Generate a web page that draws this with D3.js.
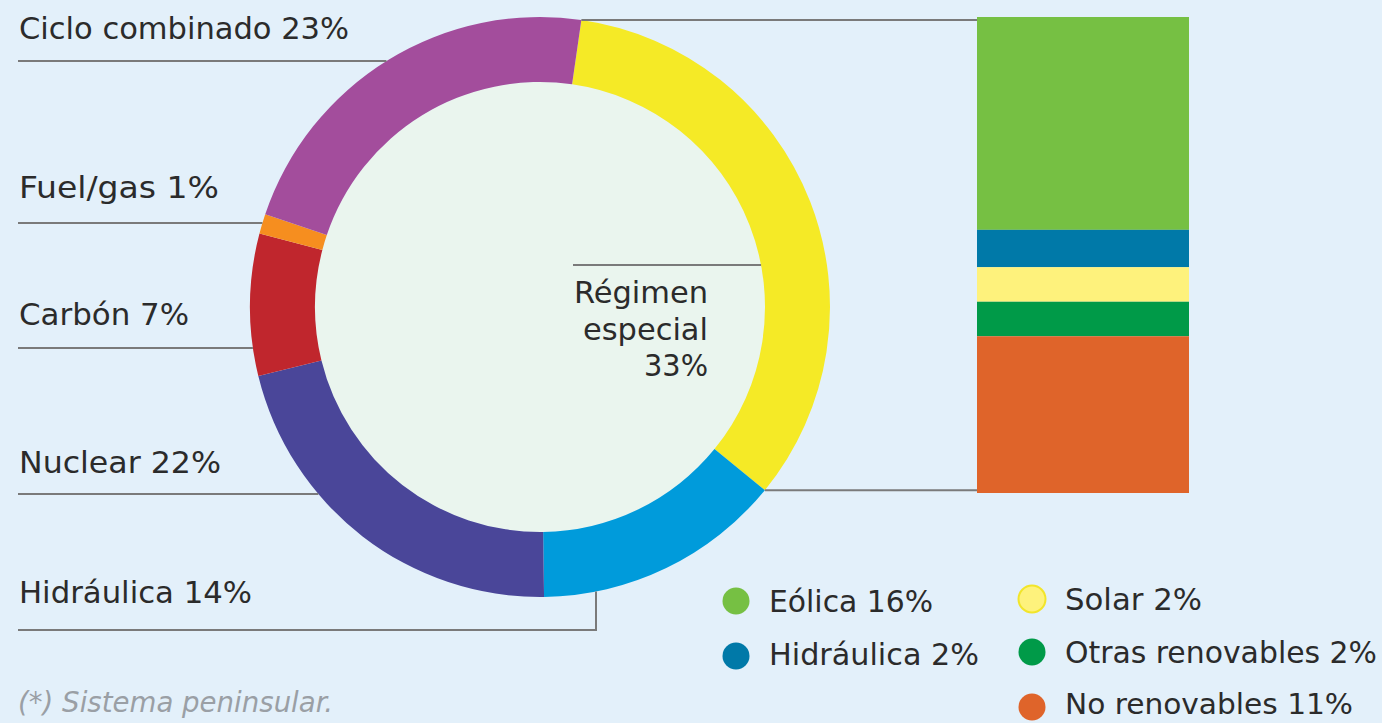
<!DOCTYPE html>
<html><head><meta charset="utf-8">
<script src="https://cdn.jsdelivr.net/npm/d3@7"></script>
<style>
html,body{margin:0;padding:0;background:#e3f0fa;}
svg{display:block;}
text{font-family:"Liberation Sans Narrow","DejaVu Sans Condensed",sans-serif;fill:#2b2b2b;}
</style></head>
<body>
<script>
// ---- data ----
const donutLabels = ["Régimen especial", "Hidráulica", "Nuclear", "Carbón", "Fuel/gas", "Ciclo combinado"];
const donutValues = [33.6, 13.9, 21.4, 7.9, 1.1, 22.1];
const donutColors = ["#f5ea26", "#009bdb", "#4a4699", "#c0262d", "#f68e1f", "#a34d9c"];
const donutText = ["Régimen especial 33%", "Hidráulica 14%", "Nuclear 22%", "Carbón 7%", "Fuel/gas 1%", "Ciclo combinado 23%"];

const barLabels = ["Eólica", "Hidráulica", "Solar", "Otras renovables", "No renovables"];
const barValues = [14.8, 2.6, 2.4, 2.4, 10.9];
const barColors = ["#76c043", "#0079a8", "#fef27c", "#009a48", "#df642a"];
const legendText = ["Eólica 16%", "Hidráulica 2%", "Solar 2%", "Otras renovables 2%", "No renovables 11%"];
const footnote = "(*) Sistema peninsular.";

// ---- layout ----
const W = 1382, H = 723;
const cx = 540, cy = 307, R = 290, r = 225;
const svg = d3.select("body").append("svg").attr("width", W).attr("height", H);
svg.append("rect").attr("width", W).attr("height", H).attr("fill", "#e3f0fa");

const start = 8.2 * Math.PI / 180;
const pie = d3.pie().sort(null).startAngle(start).endAngle(start + 2 * Math.PI);
const arcs = pie(donutValues);
const arc = d3.arc().innerRadius(r).outerRadius(R);
const g = svg.append("g").attr("transform", `translate(${cx},${cy})`);
g.append("circle").attr("r", r).attr("fill", "#eaf5ee");
g.selectAll("path").data(arcs).join("path")
  .attr("d", arc).attr("fill", (d, i) => donutColors[i]);

const pt = a => [cx + R * Math.sin(a), cy - R * Math.cos(a)];
const lineCol = "#7a7a7a";
const ln = (pts) => svg.append("path").attr("d", d3.line()(pts))
  .attr("fill", "none").attr("stroke", lineCol).attr("stroke-width", 2);

// bar
const y = d3.scaleLinear().domain([0, d3.sum(barValues)]).range([17, 493]);
const bx = 977, bw = 212;
let acc = 0;
const cum = barValues.map(v => { const s = acc; acc += v; return [s, acc]; });
svg.selectAll("rect.bar").data(cum).join("rect").attr("class", "bar")
  .attr("x", bx).attr("width", bw)
  .attr("y", d => y(d[0])).attr("height", d => y(d[1]) - y(d[0]))
  .attr("fill", (d, i) => barColors[i]);

// connectors from régimen especial to bar
const a0 = pt(arcs[0].startAngle), a1 = pt(arcs[0].endAngle);
ln([[a0[0], a0[1]], [bx, a0[1]]]);
ln([[a1[0], a1[1]], [bx, a1[1]]]);

// left labels
const xOnCircle = (yy) => cx - Math.sqrt(R * R - (yy - cy) * (yy - cy));
const leftItems = [
  {i: 5, base: 39, w: 330, ly: 61},
  {i: 4, base: 198, w: 200, ly: 223},
  {i: 3, base: 325, w: 170, ly: 348},
  {i: 2, base: 473, w: 202, ly: 494},
];
leftItems.forEach(o => {
  svg.append("text").attr("x", 19).attr("y", o.base).attr("font-size", 30)
    .attr("textLength", o.w).attr("lengthAdjust", "spacingAndGlyphs").text(donutText[o.i]);
  ln([[18, o.ly], [xOnCircle(o.ly), o.ly]]);
});
// hidráulica
svg.append("text").attr("x", 19).attr("y", 603).attr("font-size", 30)
  .attr("textLength", 233).attr("lengthAdjust", "spacingAndGlyphs").text(donutText[1]);
const hx = 596;
ln([[18, 630], [hx, 630], [hx, cy + Math.sqrt(R * R - (hx - cx) * (hx - cx))]]);

// center label
const ly = 265;
ln([[573, ly], [cx + Math.sqrt(r * r - (ly - cy) * (ly - cy)), ly]]);
const ct = [["Régimen", 303, 134], ["especial", 340, 125], ["33%", 376, 64]];
ct.forEach(c => svg.append("text").attr("x", 708).attr("y", c[1]).attr("font-size", 30)
  .attr("text-anchor", "end").attr("textLength", c[2]).attr("lengthAdjust", "spacingAndGlyphs").text(c[0]));

// legend
const legPos = [
  {x: 736, y: 601, ty: 612, w: 164, fs: 30},
  {x: 736, y: 656, ty: 665, w: 210, fs: 30},
  {x: 1032, y: 599, ty: 610, w: 137, fs: 30},
  {x: 1032, y: 652, ty: 663, w: 312, fs: 30},
  {x: 1032, y: 707, ty: 714, w: 288, fs: 28},
];
legPos.forEach((p, i) => {
  svg.append("circle").attr("cx", p.x).attr("cy", p.y).attr("r", 13.5)
    .attr("fill", barColors[i])
    .attr("stroke", i === 2 ? "#f2e52a" : "none").attr("stroke-width", 2);
  svg.append("text").attr("x", p.x + 33).attr("y", p.ty).attr("font-size", p.fs)
    .attr("textLength", p.w).attr("lengthAdjust", "spacingAndGlyphs").text(legendText[i]);
});

// footnote
svg.append("text").attr("x", 18).attr("y", 712).attr("font-size", 28)
  .attr("font-style", "italic").style("fill", "#9a9fa5")
  .attr("textLength", 315).attr("lengthAdjust", "spacingAndGlyphs").text(footnote);
</script>
</body></html>
